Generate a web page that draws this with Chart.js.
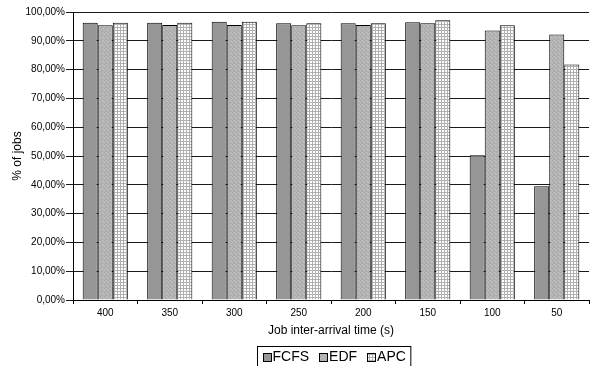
<!DOCTYPE html>
<html>
<head>
<meta charset="utf-8">
<script src="https://cdn.jsdelivr.net/npm/chart.js@4.4.1/dist/chart.umd.min.js"></script>
<style>
  html, body { margin: 0; padding: 0; background: #fff; }
  #wrap { width: 590px; height: 366px; }
</style>
</head>
<body>
<div id="wrap"><canvas id="c" width="590" height="366"></canvas></div>
<script>
// Job inter-arrival times (s) on the x axis
const categories = ['400', '350', '300', '250', '200', '150', '100', '50'];
// Share of jobs (%) per scheduling policy
const fcfs = [96.3, 96.3, 96.6, 96.1, 96.1, 96.4, 50.3, 39.5];
const edf  = [95.4, 95.5, 95.5, 95.4, 95.5, 96.1, 93.6, 92.2];
const apc  = [96.3, 96.3, 96.6, 96.1, 96.1, 97.1, 95.4, 81.8];
const seriesNames = ['FCFS', 'EDF', 'APC'];
// y axis ticks, 0 .. 100 in steps of 10
const yTicks = [0, 10, 20, 30, 40, 50, 60, 70, 80, 90, 100];

const FONT = '"Liberation Sans", Arial, sans-serif';

// Fill patterns for the bars
function makePattern(size, paint) {
  const cv = document.createElement('canvas');
  cv.width = size; cv.height = size;
  const g = cv.getContext('2d');
  paint(g);
  return g.createPattern(cv, 'repeat');
}
const ctx0 = document.getElementById('c').getContext('2d');

const fillFCFS = '#969696';
// fine stipple: light gray with scattered darker/lighter dots
const fillEDF = makePattern(4, g => {
  g.fillStyle = '#b3b3b3'; g.fillRect(0, 0, 4, 4);
  g.fillStyle = '#a8a8a8';
  g.fillRect(0, 0, 1, 1); g.fillRect(2, 2, 1, 1); g.fillRect(1, 3, 1, 1);
  g.fillStyle = '#bfbfbf';
  g.fillRect(2, 0, 1, 1); g.fillRect(0, 2, 1, 1); g.fillRect(3, 1, 1, 1);
});
// small square grid on white
const fillAPC = makePattern(3, g => {
  g.fillStyle = '#ffffff'; g.fillRect(0, 0, 3, 3);
  g.fillStyle = '#b0b0b0';
  g.fillRect(0, 0, 3, 1); g.fillRect(0, 0, 1, 3);
});
const fills = [fillFCFS, fillEDF, fillAPC];

// Boxed legend drawn under the x axis title
const boxedLegend = {
  id: 'boxedLegend',
  afterDraw(chart) {
    const c = chart.ctx;
    c.save();
    c.font = '14px ' + FONT;
    const marker = 8, gapText = 2, gapItem = 10, padX = 5;
    const widths = seriesNames.map(n => c.measureText(n).width);
    let total = padX * 2;
    widths.forEach((w, i) => { total += marker + gapText + w + (i < widths.length - 1 ? gapItem : 0); });
    const cx = 333.5;
    const left = Math.round(cx - total / 2) + 0.5;
    const top = 346.5, h = 20;
    c.fillStyle = '#fff';
    c.fillRect(left, top, total, h);
    c.strokeStyle = '#000';
    c.lineWidth = 1;
    c.strokeRect(left, top, total, h);
    let x = left + padX;
    const midY = top + h / 2;
    seriesNames.forEach((n, i) => {
      const mx = Math.round(x) + 0.5, my = Math.round(midY - marker / 2) + 0.5;
      c.fillStyle = fills[i];
      c.fillRect(mx, my, marker, marker);
      c.strokeStyle = '#000';
      c.strokeRect(mx, my, marker, marker);
      x += marker + gapText;
      c.fillStyle = '#000';
      c.textBaseline = 'middle';
      c.textAlign = 'left';
      c.fillText(n, x, midY + 1);
      x += widths[i] + gapItem;
    });
    c.restore();
  }
};

const values = [fcfs, edf, apc];
new Chart(ctx0, {
  type: 'bar',
  data: {
    labels: categories,
    datasets: seriesNames.map((name, i) => ({
      label: name,
      data: values[i],
      backgroundColor: fills[i],
      borderColor: '#000',
      borderWidth: 1,
      borderSkipped: 'bottom',
      barPercentage: 1,
      categoryPercentage: 0.7
    }))
  },
  options: {
    responsive: false,
    devicePixelRatio: 1,
    animation: false,
    layout: { padding: { left: 8, right: 1, top: 12, bottom: 26 } },
    plugins: {
      legend: { display: false },
      tooltip: { enabled: false }
    },
    scales: {
      x: {
        grid: {
          display: true,
          offset: true,
          drawOnChartArea: false,
          drawTicks: true,
          tickLength: 4,
          color: '#000'
        },
        border: { display: true, color: '#000', width: 1 },
        ticks: {
          color: '#000',
          font: { family: FONT, size: 10 },
          padding: 3,
          maxRotation: 0
        },
        title: {
          display: true,
          text: 'Job inter-arrival time (s)',
          color: '#000',
          font: { family: FONT, size: 12 },
          padding: { top: 2, bottom: 2 }
        },
        afterFit(scale) { scale.height = 40; }
      },
      y: {
        min: 0,
        max: 100,
        afterBuildTicks(scale) { scale.ticks = yTicks.map(v => ({ value: v })); },
        grid: {
          color: '#1a1a1a',
          lineWidth: 1,
          tickLength: 7,
          drawTicks: true
        },
        border: { display: true, color: '#000', width: 1 },
        ticks: {
          color: '#000',
          font: { family: FONT, size: 10 },
          padding: 1,
          callback: v => v.toFixed(2).replace('.', ',') + '%'
        },
        title: {
          display: true,
          text: '% of jobs',
          color: '#000',
          font: { family: FONT, size: 12 },
          padding: { top: 2, bottom: 2 }
        },
        afterFit(scale) { scale.width = 65; }
      }
    }
  },
  plugins: [boxedLegend]
});
</script>
</body>
</html>
